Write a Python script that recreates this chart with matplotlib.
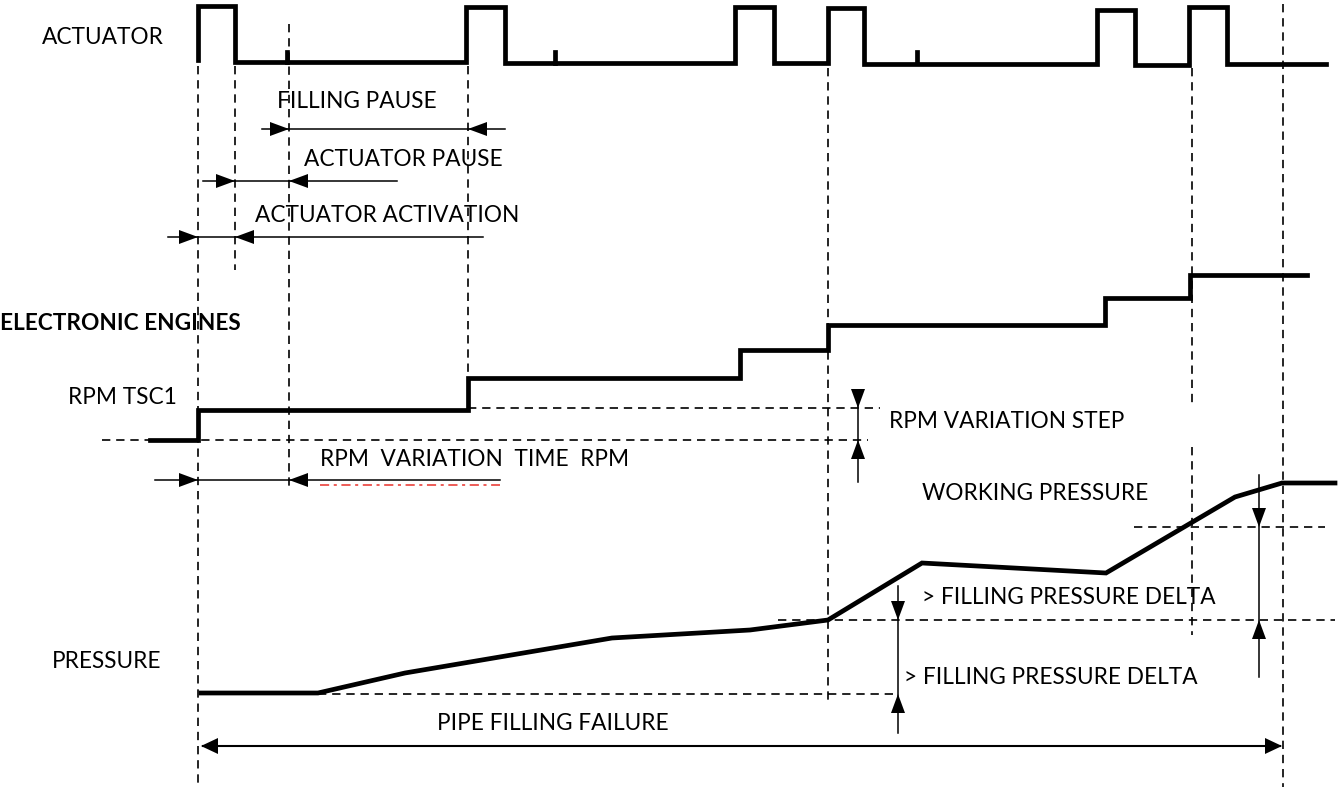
import numpy as np
import matplotlib.pyplot as plt
from matplotlib.patches import Polygon

# Timing diagram drawn in pixel units (x to the right, y downwards)

# Actuator pulses: rise / fall positions, high level of each pulse,
# and the low level that follows each pulse
act_rise = [198, 466, 735, 828, 1097, 1189]
act_fall = [235, 505, 774, 864, 1135, 1227]
act_high = [6, 7, 7, 8, 10, 7]
act_low = [62, 63, 63, 64, 65, 64]
act_start_low = 60
act_end = 1326
act_ticks = [287, 555, 917]

# RPM TSC1 staircase
rpm_start = 150
rpm_steps = [198, 468, 740, 828, 1105, 1190]
rpm_levels = [440, 410, 378, 350, 325, 298, 275]
rpm_end = 1307

# Pressure curve
press_x = [201, 318, 405, 612, 750, 828, 922, 1106, 1235, 1282, 1335]
press_y = [693, 693, 673, 638, 630, 620, 563, 573, 497, 483, 483]

BOLD = 3.4
THIN = 1.1
DASH = (0, (5, 3.5))


def arrowhead(ax, x, y, direction, size=19, half=7):
    # filled triangle with its tip on (x, y)
    d = {'right': (-1, 0), 'left': (1, 0), 'down': (0, -1), 'up': (0, 1)}[direction]
    bx, by = x + d[0]*size, y + d[1]*size
    px, py = -d[1]*half, d[0]*half
    tri = Polygon([(x, y), (bx + px, by + py), (bx - px, by - py)],
                  closed=True, color='black', lw=0)
    ax.add_patch(tri)


def dline(ax, xs, ys):
    ax.plot(xs, ys, color='black', lw=1.2, linestyle=DASH)


def main():
    fig = plt.figure(figsize=(13.38, 7.87), dpi=100)
    ax = fig.add_axes([0, 0, 1, 1])
    ax.set_xlim(0, 1338)
    ax.set_ylim(787, 0)
    ax.axis('off')

    font = dict(family=['Lato', 'DejaVu Sans'], fontsize=16.3, color='black')

    # --- actuator signal ---
    xs, ys = [], []
    lo = act_start_low
    for r, f, h, nxt in zip(act_rise, act_fall, act_high, act_low):
        xs += [r, r, f, f]
        ys += [lo, h, h, nxt]
        lo = nxt
    xs.append(act_end)
    ys.append(lo)
    ax.plot(xs, ys, color='black', lw=BOLD, solid_joinstyle='miter')
    for t, lv in zip(act_ticks, act_low[:3]):
        ax.plot([t, t], [52, lv], color='black', lw=BOLD)

    # --- rpm signal ---
    xs, ys = [rpm_start], [rpm_levels[0]]
    for i, s in enumerate(rpm_steps):
        xs += [s, s]
        ys += [rpm_levels[i], rpm_levels[i + 1]]
    xs.append(rpm_end)
    ys.append(rpm_levels[-1])
    ax.plot(xs, ys, color='black', lw=BOLD, solid_joinstyle='miter')

    # --- pressure signal ---
    ax.plot(press_x, press_y, color='black', lw=BOLD, solid_joinstyle='miter')

    # --- vertical dashed guides ---
    dline(ax, [198, 198], [66, 787])
    dline(ax, [235, 235], [66, 270])
    dline(ax, [289, 289], [24, 490])
    dline(ax, [468, 468], [66, 405])
    dline(ax, [828, 828], [68, 705])
    dline(ax, [1192, 1192], [68, 405])
    dline(ax, [1192, 1192], [447, 635])
    dline(ax, [1283, 1283], [4, 787])

    # --- horizontal dashed guides ---
    dline(ax, [468, 880], [408, 408])
    dline(ax, [102, 868], [440, 440])
    dline(ax, [318, 898], [694, 694])
    dline(ax, [778, 1335], [620, 620])
    dline(ax, [1134, 1325], [527, 527])

    # --- dimension arrows ---
    thin = dict(color='black', lw=THIN)
    ax.plot([262, 505], [129, 129], **thin)
    arrowhead(ax, 289, 129, 'right')
    arrowhead(ax, 468, 129, 'left')

    ax.plot([203, 397], [181, 181], **thin)
    arrowhead(ax, 235, 181, 'right')
    arrowhead(ax, 289, 181, 'left')

    ax.plot([168, 483], [237, 237], **thin)
    arrowhead(ax, 198, 237, 'right')
    arrowhead(ax, 235, 237, 'left')

    ax.plot([155, 500], [480, 480], **thin)
    arrowhead(ax, 198, 480, 'right')
    arrowhead(ax, 289, 480, 'left')
    ax.plot([320, 500], [485, 485], color='#e8302a', lw=1.1,
            linestyle=(0, (6, 3, 2, 3)))

    ax.plot([858, 858], [390, 482], **thin)
    arrowhead(ax, 858, 408, 'down')
    arrowhead(ax, 858, 440, 'up')

    ax.plot([898, 898], [586, 733], **thin)
    arrowhead(ax, 898, 620, 'down')
    arrowhead(ax, 898, 694, 'up')

    ax.plot([1259, 1259], [475, 677], **thin)
    arrowhead(ax, 1259, 527, 'down')
    arrowhead(ax, 1259, 620, 'up')

    ax.plot([203, 1280], [746, 746], color='black', lw=1.5)
    arrowhead(ax, 201, 746, 'left', size=17, half=8)
    arrowhead(ax, 1282, 746, 'right', size=17, half=8)

    # --- labels ---
    ax.text(42, 38, 'ACTUATOR', va='center', **font)
    ax.text(357, 101, 'FILLING PAUSE', ha='center', va='center', **font)
    ax.text(403, 159, 'ACTUATOR PAUSE', ha='center', va='center', **font)
    ax.text(387, 215, 'ACTUATOR ACTIVATION', ha='center', va='center', **font)
    ax.text(0, 324, 'ELECTRONIC ENGINES', va='center', fontweight='bold', **font)
    ax.text(68, 397, 'RPM TSC1', va='center', **font)
    ax.text(320, 459, 'RPM  VARIATION  TIME  RPM', va='center', **font)
    ax.text(889, 422, 'RPM VARIATION STEP', va='center', **font)
    ax.text(922, 493, 'WORKING PRESSURE', va='center', **font)
    ax.text(922, 598, '> FILLING PRESSURE DELTA', va='center', **font)
    ax.text(904, 677, '> FILLING PRESSURE DELTA', va='center', **font)
    ax.text(52, 661, 'PRESSURE', va='center', **font)
    ax.text(553, 724, 'PIPE FILLING FAILURE', ha='center', va='center', **font)

    fig.savefig('out.png', dpi=100)


if __name__ == '__main__':
    main()
